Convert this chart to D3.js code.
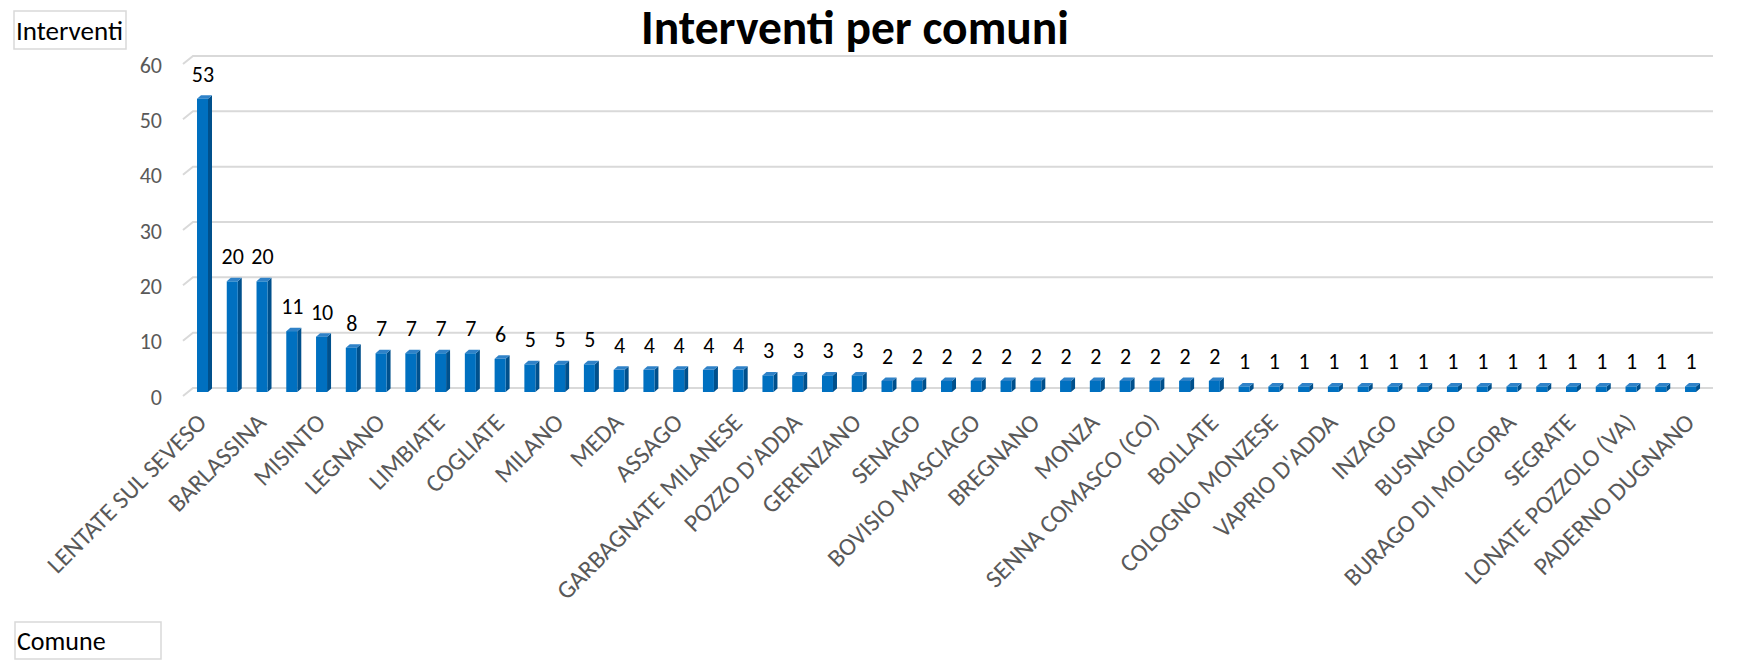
<!DOCTYPE html>
<html>
<head>
<meta charset="utf-8">
<script src="https://cdn.jsdelivr.net/npm/d3@7"></script>
<style>
  body { margin: 0; background: #fff; }
  text { font-family: Carlito, Calibri, Lato, sans-serif; }
</style>
</head>
<body>
<div id="viz"></div>
<script>
// Values per comune, in chart order (51 bars)
const values = [53, 20, 20, 11, 10, 8, 7, 7, 7, 7, 6, 5, 5, 5,
  4, 4, 4, 4, 4, 3, 3, 3, 3,
  2, 2, 2, 2, 2, 2, 2, 2, 2, 2, 2, 2,
  1, 1, 1, 1, 1, 1, 1, 1, 1, 1, 1, 1, 1, 1, 1, 1];
// Only every second category label is shown on the axis
const shownLabels = ['LENTATE SUL SEVESO', 'BARLASSINA', 'MISINTO', 'LEGNANO', 'LIMBIATE',
  'COGLIATE', 'MILANO', 'MEDA', 'ASSAGO', 'GARBAGNATE MILANESE', "POZZO D'ADDA",
  'GERENZANO', 'SENAGO', 'BOVISIO MASCIAGO', 'BREGNANO', 'MONZA', 'SENNA COMASCO (CO)',
  'BOLLATE', 'COLOGNO MONZESE', "VAPRIO D'ADDA", 'INZAGO', 'BUSNAGO', 'BURAGO DI MOLGORA',
  'SEGRATE', 'LONATE POZZOLO (VA)', 'PADERNO DUGNANO'];
const yTicks = [0, 10, 20, 30, 40, 50, 60];

const width = 1744;
const height = 664;
const depth = {dx: 10, dy: -8};     // back wall offset
const barDepth = {dx: 4, dy: -3.5}; // bar side/top face
const barW = 11;

const svg = d3.select('#viz')
  .append('svg')
    .attr('width', width)
    .attr('height', height);

// Scales (front plane)
const xScale = d3.scaleBand()
  .domain(d3.range(values.length))
  .range([187.6, 1705.4]);
const yScale = d3.scaleLinear()
  .domain([0, 60])
  .range([397, 65]);

// Gridlines with small 3D corner
const grid = svg.append('g').attr('class', 'grid');
yTicks.forEach(t => {
  const y = yScale(t) - 1;
  grid.append('path')
    .attr('d', `M183,${y} L${183 + depth.dx},${y + depth.dy} L1713,${y + depth.dy}`)
    .attr('fill', 'none')
    .attr('stroke', '#d9d9d9')
    .attr('stroke-width', 2);
});

// Y tick labels
svg.append('g')
  .selectAll('text')
  .data(yTicks)
  .join('text')
    .attr('x', 162)
    .attr('y', d => yScale(d) + 7.5)
    .attr('text-anchor', 'end')
    .attr('fill', '#595959')
    .style('font-size', '22px')
    .text(d => d);

// Bars
const bars = svg.append('g').attr('class', 'bars')
  .selectAll('g')
  .data(values)
  .join('g');

const bx = (d, i) => xScale(i) + 9.4;
const yTop = d => yScale(d) - 5;
const yBot = yScale(0) - 5;

bars.append('polygon')
  .attr('points', (d, i) => {
    const x = bx(d, i) + barW, t = yTop(d);
    return [[x, t], [x + barDepth.dx, t + barDepth.dy], [x + barDepth.dx, yBot + barDepth.dy], [x, yBot]].join(' ');
  })
  .attr('fill', '#00508c');

bars.append('polygon')
  .attr('points', (d, i) => {
    const x = bx(d, i), t = yTop(d);
    return [[x, t], [x + barW, t], [x + barW + barDepth.dx, t + barDepth.dy], [x + barDepth.dx, t + barDepth.dy]].join(' ');
  })
  .attr('fill', '#2f82c8');

bars.append('rect')
  .attr('x', bx)
  .attr('y', d => yTop(d))
  .attr('width', barW)
  .attr('height', d => yBot - yTop(d))
  .attr('fill', '#0070c0');

// Data labels
bars.append('text')
  .attr('x', (d, i) => bx(d, i) + 6)
  .attr('y', d => yTop(d) - 17)
  .attr('text-anchor', 'middle')
  .attr('fill', '#000')
  .style('font-size', '22px')
  .text(d => d);

// Category labels (every second bar)
svg.append('g')
  .selectAll('text')
  .data(shownLabels)
  .join('text')
    .attr('transform', (d, i) => `translate(${bx(0, i * 2) + 11},${424}) rotate(-45)`)
    .attr('text-anchor', 'end')
    .attr('fill', '#595959')
    .style('font-size', '25px')
    .text(d => d);

// Title
const title = svg.append('text')
  .attr('x', 855)
  .attr('y', 44)
  .attr('text-anchor', 'middle')
  .attr('fill', '#000')
  .style('font-size', '42px')
  .style('font-weight', 700)
  .text('Interventi per comuni');
const tw = title.node().getComputedTextLength();
if (tw > 0) title.style('font-size', (42 * 428 / tw).toFixed(1) + 'px');

// Axis title boxes
function axisBox(x, y, w, h, label, size, base) {
  svg.append('rect')
    .attr('x', x).attr('y', y)
    .attr('width', w).attr('height', h)
    .attr('fill', '#fff')
    .attr('stroke', '#d9d9d9')
    .attr('stroke-width', 1.5);
  svg.append('text')
    .attr('x', x + 2)
    .attr('y', base)
    .attr('fill', '#000')
    .style('font-size', size + 'px')
    .text(label);
}
axisBox(14, 11, 112, 38, 'Interventi', 27, 40);
axisBox(15, 622, 146, 37, 'Comune', 26, 650);
</script>
</body>
</html>
